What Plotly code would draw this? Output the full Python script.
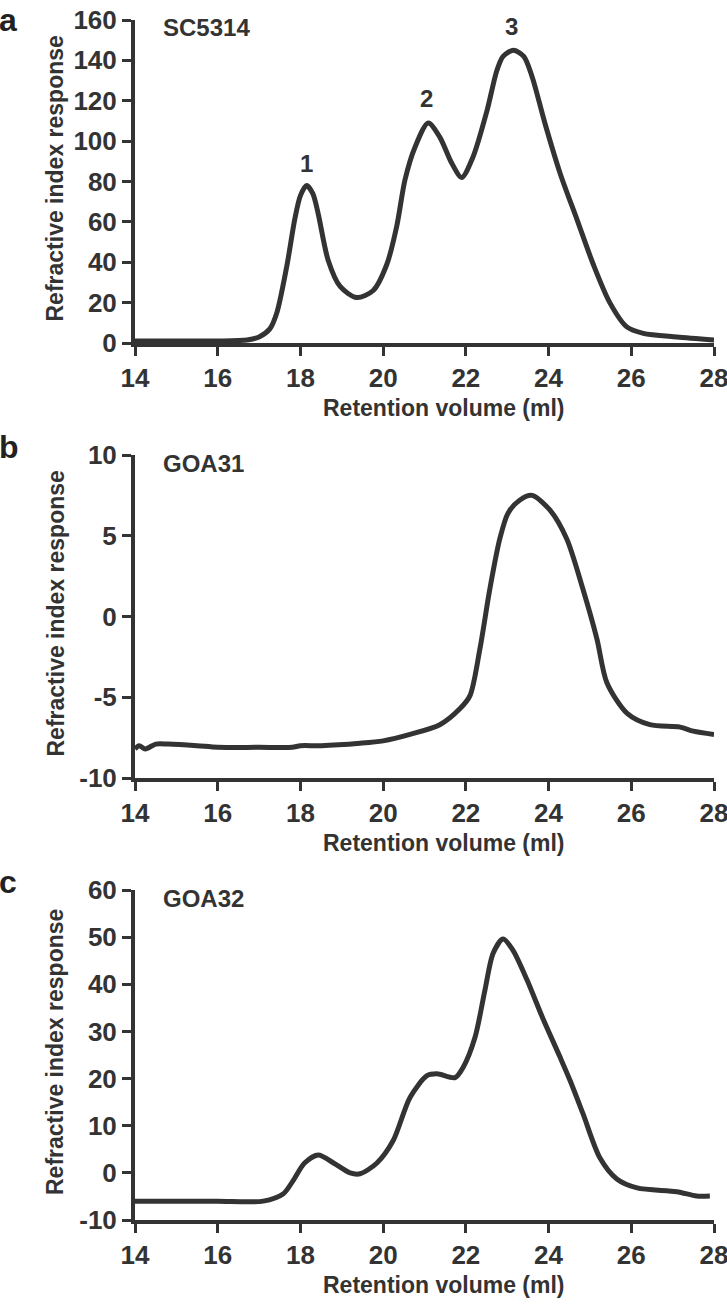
import plotly.graph_objects as go

# Panel a: SC5314
a_x = [14.0, 15.0, 16.0, 16.71, 17.0, 17.26, 17.43, 17.67, 17.87, 18.0, 18.15, 18.3, 18.43, 18.67, 18.96, 19.36,
       19.76, 20.09, 20.33, 20.53, 20.77, 21.09, 21.37, 21.66, 21.9, 22.17, 22.51, 22.75, 22.9, 23.15, 23.4,
       23.6, 23.91, 24.28, 24.69, 25.08, 25.48, 25.89, 26.29, 27.1, 28.0]
a_y = [1.0, 1.0, 1.0, 1.5, 3.0, 7.0, 15.0, 38.0, 62.0, 73.0, 78.0, 74.0, 64.0, 41.0, 28.0, 22.5,
       26.0, 39.0, 58.0, 81.0, 97.0, 109.0, 102.0, 89.0, 82.0, 92.0, 115.0, 135.0, 142.0, 145.0, 142.0,
       132.0, 109.0, 84.0, 61.0, 39.0, 20.0, 8.0, 4.8, 3.0, 1.5]

# Panel b: GOA31
b_x = [14.0, 14.1, 14.25, 14.5, 14.8, 15.5, 16.0, 17.0, 17.8, 18.0, 18.5, 19.44, 20.0, 20.65, 21.37, 21.86,
       22.1, 22.34, 22.58, 22.82, 23.02, 23.3, 23.6, 24.03, 24.44, 24.83, 25.17, 25.41, 25.9, 26.45, 27.18,
       27.5, 28.0]
b_y = [-8.2, -8.0, -8.2, -7.9, -7.9, -8.0, -8.1, -8.1, -8.1, -8.0, -8.0, -7.85, -7.7, -7.3, -6.7, -5.7,
       -4.9, -2.0, 1.7, 4.8, 6.4, 7.2, 7.5, 6.6, 4.8, 1.7, -1.4, -4.1, -6.0, -6.7, -6.85,
       -7.1, -7.3]

# Panel c: GOA32
c_x = [14.0, 15.0, 16.0, 17.1, 17.58, 17.82, 18.1, 18.43, 18.8, 19.2, 19.44, 19.85, 20.24, 20.65, 21.06,
       21.3, 21.74, 21.93, 22.22, 22.46, 22.66, 22.9, 23.14, 23.48, 23.86, 24.28, 24.52, 24.83, 25.24, 25.65,
       26.14, 27.1, 27.58, 27.9]
c_y = [-6.0, -6.0, -6.0, -6.0, -4.5, -1.7, 2.1, 3.8, 2.1, 0.0, -0.2, 2.1, 6.8, 16.0, 20.6,
       21.0, 20.2, 22.3, 28.7, 38.7, 46.6, 49.6, 47.2, 40.9, 32.8, 24.5, 19.6, 12.6, 3.2, -1.3,
       -3.2, -4.0, -4.9, -4.9]

x_ticks = [14, 16, 18, 20, 22, 24, 26, 28]
a_ticks = [0, 20, 40, 60, 80, 100, 120, 140, 160]
b_ticks = [-10, -5, 0, 5, 10]
c_ticks = [-10, 0, 10, 20, 30, 40, 50, 60]

x_title = "Retention volume (ml)"
y_title = "Refractive index response"

panels = [
    dict(x=a_x, y=a_y, name="SC5314", letter="a", yrange=[0, 160], ticks=a_ticks, top=20, bottom=343),
    dict(x=b_x, y=b_y, name="GOA31", letter="b", yrange=[-10, 10], ticks=b_ticks, top=455, bottom=778),
    dict(x=c_x, y=c_y, name="GOA32", letter="c", yrange=[-10, 60], ticks=c_ticks, top=890, bottom=1220),
]

peak_x = [18.15, 21.05, 23.1]
peak_y = [89, 121, 157]
peak_labels = ["1", "2", "3"]

W, H = 727, 1304
X0, X1 = 135, 714
FONT = "Liberation Sans, Arial"
INK = "#333333"


def py(px):
    return 1 - px / H


fig = go.Figure()
layout = dict(
    template="none",
    width=W, height=H, margin=dict(l=0, r=0, t=0, b=0, autoexpand=False),
    plot_bgcolor="white", paper_bgcolor="white", showlegend=False,
    font=dict(family=FONT, color=INK, size=24, weight="bold"),
)
annotations = []
for i, p in enumerate(panels):
    n = "" if i == 0 else str(i + 1)
    fig.add_trace(go.Scatter(x=p["x"], y=p["y"], mode="lines",
                             line=dict(color=INK, width=5, shape="spline", smoothing=0.8),
                             xaxis="x" + n, yaxis="y" + n, hoverinfo="skip"))
    axis_common = dict(showline=True, linecolor=INK, linewidth=4, ticks="outside", ticklen=9, tickwidth=3,
                       tickcolor=INK, showgrid=False, zeroline=False, automargin=False,
                       ticklabeloverflow="allow",
                       tickfont=dict(family=FONT, size=26, color=INK, weight="bold"))
    layout["xaxis" + n] = dict(axis_common, domain=[X0 / W, X1 / W], range=[14, 28],
                               tickvals=x_ticks, ticktext=[str(v) for v in x_ticks],
                               anchor="y" + n)
    layout["yaxis" + n] = dict(axis_common, domain=[py(p["bottom"]), py(p["top"])], range=p["yrange"],
                               tickvals=p["ticks"], ticktext=[str(v) for v in p["ticks"]],
                               anchor="x" + n)
    annotations.append(dict(text=x_title, xref="paper", yref="paper", x=444 / W, y=py(p["bottom"] + 65),
                            xanchor="center", yanchor="middle", showarrow=False,
                            font=dict(family=FONT, size=23, color=INK, weight="bold")))
    annotations.append(dict(text=y_title, xref="paper", yref="paper", x=55 / W,
                            y=py((p["top"] + p["bottom"]) / 2 - 3), textangle=-90,
                            xanchor="center", yanchor="middle", showarrow=False,
                            font=dict(family=FONT, size=23, color=INK, weight="bold")))
    annotations.append(dict(text=p["name"], xref="paper", yref="paper", x=161 / W, y=py(p["top"] + 8),
                            xanchor="left", yanchor="middle", showarrow=False,
                            font=dict(family=FONT, size=24, color=INK, weight="bold")))
    if i == 0:
        annotations.append(dict(text=p["letter"], xref="paper", yref="paper", x=-0.004, y=1.0,
                                xanchor="left", yanchor="top", showarrow=False,
                                font=dict(family="Liberation Sans, Arial", size=32, color="#222222", weight="bold")))
    else:
        annotations.append(dict(text=p["letter"], xref="paper", yref="paper", x=-0.004, y=py(p["top"] - 8),
                                xanchor="left", yanchor="middle", showarrow=False,
                                font=dict(family="Liberation Sans, Arial", size=32, color="#222222", weight="bold")))

for px_, py_, t in zip(peak_x, peak_y, peak_labels):
    annotations.append(dict(text=t, x=px_, y=py_, xref="x", yref="y", showarrow=False,
                            font=dict(family=FONT, size=24, color=INK, weight="bold")))

layout["annotations"] = annotations
fig.update_layout(**layout)
fig.write_html("out.html", config={"displayModeBar": False},
               post_script="document.body.style.margin='0';document.body.style.overflow='hidden';")
